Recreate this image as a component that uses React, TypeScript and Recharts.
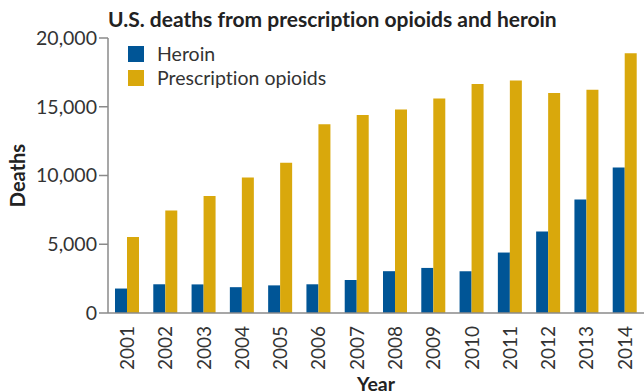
import React from "react";
import { BarChart, Bar, XAxis, YAxis } from "recharts";

const years = ["2001","2002","2003","2004","2005","2006","2007","2008","2009","2010","2011","2012","2013","2014"];
const heroin = [1779, 2089, 2080, 1878, 2009, 2088, 2399, 3041, 3278, 3036, 4397, 5925, 8257, 10574];
const prescription = [5528, 7456, 8517, 9857, 10928, 13723, 14408, 14800, 15597, 16651, 16917, 16007, 16235, 18893];
const yTicks = [0, 5000, 10000, 15000, 20000];
const seriesNames = ["Heroin", "Prescription opioids"];

const data = years.map((y, i) => ({ year: y, heroin: heroin[i], prescription: prescription[i] }));

const FONT = "Lato, 'Noto Sans', sans-serif";
const BLUE = "#005596";
const GOLD = "#D9A80C";
const AXIS = "#8a8a8a";
const TEXT = "#333333";
const NOLIG = { fontVariantLigatures: "none" as const };

const XTick = (props: any) => {
  const { x, y, payload } = props;
  return (
    <text
      transform={`translate(${x},${y + 5}) rotate(-90)`}
      textAnchor="end"
      dy="0.36em"
      fontSize={19}
      fontFamily={FONT}
      fill={TEXT}
    >
      {payload.value}
    </text>
  );
};

export default function App() {
  const legendItems = [
    { label: seriesNames[0], color: BLUE },
    { label: seriesNames[1], color: GOLD },
  ];
  return (
    <div style={{ position: "absolute", left: 0, top: 0, width: 644, height: 391, background: "#fff", ...NOLIG }}>
      <BarChart
        width={644}
        height={391}
        data={data}
        margin={{ top: 38, right: 0, bottom: 0, left: 0 }}
        barSize={12}
        barGap={0}
      >
        <XAxis
          dataKey="year"
          height={78}
          tickLine={false}
          axisLine={{ stroke: AXIS, strokeWidth: 1.5 }}
          tick={<XTick />}
          interval={0}
          label={{
            value: "Year",
            position: "insideBottom",
            offset: 0,
            style: { fontFamily: FONT, fontWeight: 700, fontSize: 19.5, fill: "#222" },
          }}
        />
        <YAxis
          width={108}
          domain={[0, 20000]}
          ticks={yTicks}
          interval={0}
          tickSize={9}
          tickLine={{ stroke: AXIS, strokeWidth: 1.5 }}
          axisLine={{ stroke: AXIS, strokeWidth: 1.5 }}
          tickFormatter={(v: number) => v.toLocaleString("en-US")}
          tick={{ fontFamily: FONT, fontSize: 19.5, fill: TEXT }}
          label={{
            value: "Deaths",
            angle: -90,
            position: "insideLeft",
            offset: 18,
            style: { fontFamily: FONT, fontWeight: 700, fontSize: 20, fill: "#222", textAnchor: "middle" },
          }}
        />
        <Bar dataKey="heroin" name={seriesNames[0]} fill={BLUE} isAnimationActive={false} />
        <Bar dataKey="prescription" name={seriesNames[1]} fill={GOLD} isAnimationActive={false} />
      </BarChart>
      <div
        style={{
          position: "absolute",
          left: 108,
          top: 5,
          fontFamily: FONT,
          fontWeight: 700,
          fontSize: 21,
          color: "#222",
          whiteSpace: "nowrap",
          lineHeight: "28px",
          ...NOLIG,
        }}
      >
        U.S. deaths from prescription opioids and heroin
      </div>
      <div style={{ position: "absolute", left: 128, top: 42, fontFamily: FONT, ...NOLIG }}>
        {legendItems.map((it) => (
          <div key={it.label} style={{ display: "flex", alignItems: "center", height: 24 }}>
            <div style={{ width: 16, height: 16, background: it.color, marginRight: 13 }} />
            <span style={{ fontSize: 19.5, color: TEXT, lineHeight: "24px", whiteSpace: "nowrap" }}>{it.label}</span>
          </div>
        ))}
      </div>
    </div>
  );
}
